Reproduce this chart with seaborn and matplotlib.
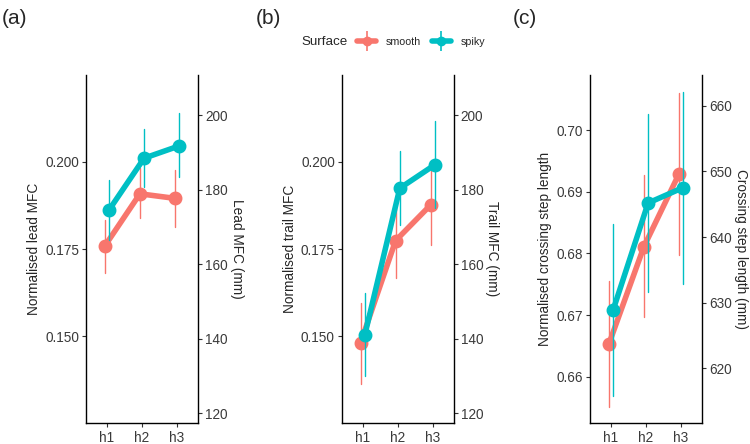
import pandas as pd
import seaborn as sns
import matplotlib.pyplot as plt
from matplotlib.lines import Line2D

heights = ["h1", "h2", "h3"]
surfaces = ["smooth", "spiky"]
colors = {"smooth": "#F8766D", "spiky": "#00BFC4"}

# normalised means with lower / upper error bar ends
lead_smooth = [0.1759, 0.1908, 0.1895]
lead_smooth_lo = [0.1682, 0.1838, 0.1814]
lead_smooth_hi = [0.1833, 0.1981, 0.1976]
lead_spiky = [0.1862, 0.2010, 0.2045]
lead_spiky_lo = [0.1776, 0.1927, 0.1955]
lead_spiky_hi = [0.1948, 0.2093, 0.2139]

trail_smooth = [0.1482, 0.1774, 0.1876]
trail_smooth_lo = [0.1365, 0.1666, 0.1761]
trail_smooth_hi = [0.1596, 0.1881, 0.1981]
trail_spiky = [0.1504, 0.1924, 0.1991]
trail_spiky_lo = [0.1386, 0.1819, 0.1867]
trail_spiky_hi = [0.1623, 0.2031, 0.2117]

step_smooth = [0.6653, 0.6811, 0.6929]
step_smooth_lo = [0.6551, 0.6696, 0.6798]
step_smooth_hi = [0.6756, 0.6927, 0.7060]
step_spiky = [0.6708, 0.6882, 0.6907]
step_spiky_lo = [0.6568, 0.6737, 0.6750]
step_spiky_hi = [0.6848, 0.7027, 0.7062]

leg_scale = 937.5  # mm per normalised unit (secondary axis)


def long_table(sm, sm_lo, sm_hi, sp, sp_lo, sp_hi):
    rows = []
    for surf, vals in (("smooth", (sm, sm_lo, sm_hi)), ("spiky", (sp, sp_lo, sp_hi))):
        for arr in vals:
            for h, v in zip(heights, arr):
                rows.append({"height": h, "surface": surf, "value": v})
    return pd.DataFrame(rows)


panels = [
    ("(a)", long_table(lead_smooth, lead_smooth_lo, lead_smooth_hi,
                       lead_spiky, lead_spiky_lo, lead_spiky_hi),
     "Normalised lead MFC", "Lead MFC (mm)", (0.1253, 0.2248),
     [0.150, 0.175, 0.200], "%.3f", [120, 140, 160, 180, 200]),
    ("(b)", long_table(trail_smooth, trail_smooth_lo, trail_smooth_hi,
                       trail_spiky, trail_spiky_lo, trail_spiky_hi),
     "Normalised trail MFC", "Trail MFC (mm)", (0.1253, 0.2248),
     [0.150, 0.175, 0.200], "%.3f", [120, 140, 160, 180, 200]),
    ("(c)", long_table(step_smooth, step_smooth_lo, step_smooth_hi,
                       step_spiky, step_spiky_lo, step_spiky_hi),
     "Normalised crossing step length", "Crossing step length (mm)", (0.6525, 0.709),
     [0.66, 0.67, 0.68, 0.69, 0.70], "%.2f", [620, 630, 640, 650, 660]),
]

sns.set_style("white")
plt.rcParams["font.family"] = ["Liberation Sans", "DejaVu Sans"]

fig = plt.figure(figsize=(7.5, 4.44), dpi=100)
lefts = [86, 341.7, 590]
tag_x = [2, 256, 513]
tick_col = "#3a3a3a"

for (tag, df, ylab, ylab2, ylim, yt, fmt, yt2), lx, tx in zip(panels, lefts, tag_x):
    ax = fig.add_axes([lx / 750, 1 - 422.7 / 444, 112 / 750, (422.7 - 75) / 444])
    sns.pointplot(data=df, x="height", y="value", hue="surface", order=heights,
                  hue_order=surfaces, palette=colors, estimator="median",
                  errorbar=("pi", 100), dodge=0.12, markersize=7, linewidth=4,
                  err_kws={"linewidth": 1.0}, legend=False, ax=ax)
    ax.set_xlim(-0.6, 2.6)
    ax.set_ylim(*ylim)
    ax.set_yticks(yt)
    ax.yaxis.set_major_formatter(plt.FormatStrFormatter(fmt))
    ax.set_xlabel("")
    ax.set_ylabel(ylab, fontsize=9.8, labelpad=3)
    ax.tick_params(axis="both", direction="out", length=3, width=0.8, color="#333333",
                   labelsize=9.8, labelcolor=tick_col, pad=2, left=True, bottom=True)
    ax.tick_params(axis="x", pad=3)
    for s in ("top", "right"):
        ax.spines[s].set_visible(False)
    for s in ("left", "bottom"):
        ax.spines[s].set_color("black")
        ax.spines[s].set_linewidth(1.0)

    ax2 = ax.twinx()
    ax2.set_ylim(ylim[0] * leg_scale, ylim[1] * leg_scale)
    ax2.set_yticks(yt2)
    ax2.set_ylabel(ylab2, fontsize=9.8, rotation=270, va="bottom", labelpad=1.5)
    ax2.tick_params(axis="y", direction="out", length=3, width=0.8, color="#333333",
                    labelsize=9.8, labelcolor=tick_col, pad=2, right=True)
    for s in ("top", "left", "bottom"):
        ax2.spines[s].set_visible(False)
    ax2.spines["right"].set_color("black")
    ax2.spines["right"].set_linewidth(1.0)

    fig.text(tx / 750, 1 - 18 / 444, tag, fontsize=15, ha="left", va="center")

# legend across the top
fig.text(301.7 / 750, 1 - 42 / 444, "Surface", fontsize=9.6, ha="left", va="center")
handles = []
for surf in surfaces:
    c = colors[surf]
    handles.append((Line2D([0], [0], color=c, lw=4, marker="o", ms=6),
                    Line2D([0], [0], color=c, lw=0, marker="|", ms=14, mew=1.2)))
fig.legend(handles, surfaces, loc="center left", bbox_to_anchor=(357 / 750, 1 - 42 / 444),
           ncol=2, frameon=False, fontsize=7.7, handlelength=1.8, handletextpad=0.9,
           columnspacing=1.0, borderpad=0, borderaxespad=0)

fig.savefig("out.png", dpi=100)
